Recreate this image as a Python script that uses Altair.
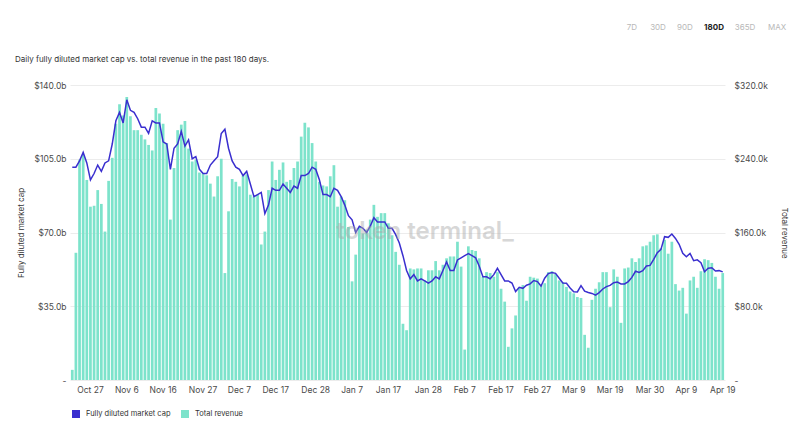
import altair as alt
import pandas as pd

# one bar / one line point per day, 180 days ending Apr 19
days = pd.date_range("2022-10-22", "2023-04-19", freq="D").strftime("%Y-%m-%d").tolist()

# total revenue, $k
revenue_k = [
    11, 138, 239, 244, 217, 188, 189, 206, 191, 161,
    216, 241, 278, 299, 287, 307, 286, 271, 271, 266,
    261, 255, 249, 295, 289, 278, 257, 174, 230, 271,
    277, 281, 251, 237, 239, 225, 224, 222, 213, 199,
    221, 240, 116, 183, 218, 215, 210, 222, 223, 201,
    199, 201, 147, 161, 206, 237, 217, 228, 236, 215,
    217, 230, 237, 264, 279, 274, 257, 237, 215, 211,
    210, 221, 233, 188, 199, 195, 166, 107, 136, 166,
    159, 163, 174, 190, 177, 181, 181, 170, 157, 139,
    125, 61, 54, 121, 120, 121, 121, 108, 119, 119,
    129, 119, 125, 132, 134, 134, 150, 123, 33, 145,
    141, 140, 132, 112, 117, 116, 112, 117, 99, 85,
    36, 56, 70, 100, 103, 86, 112, 111, 110, 103,
    105, 117, 118, 115, 108, 106, 101, 96, 94, 90,
    89, 49, 35, 87, 99, 106, 117, 117, 79, 120,
    112, 62, 121, 122, 132, 128, 132, 145, 146, 150,
    157, 158, 143, 152, 137, 150, 104, 97, 100, 72,
    108, 112, 100, 118, 131, 130, 127, 112, 99, 116,
]

# fully diluted market cap, $b
fdv_b = [
    101, 101, 104, 108, 103, 95, 98, 102, 99, 103,
    104, 112, 123, 127, 122, 133, 128, 127, 124, 120,
    120, 117, 123, 122, 122, 113, 112, 100, 110, 112,
    118, 111, 114, 105, 106, 100, 98, 98, 102, 104,
    106, 117, 119, 110, 104, 101, 100, 97, 99, 93,
    87, 88, 89, 79, 83, 91, 90, 90, 93, 91,
    89, 92, 91, 97, 97, 98, 101, 100, 95, 88,
    88, 87, 91, 90, 87, 83, 78, 76, 70, 73,
    72, 70, 73, 77, 75, 75, 75, 72, 72, 69,
    65, 59, 52, 48, 50, 47, 48, 47, 46, 47,
    49, 48, 52, 56, 52, 52, 57, 58, 59, 60,
    59, 58, 54, 49, 49, 48, 50, 53, 50, 47,
    47, 46, 42, 44, 43.5, 45, 45.6, 47.2, 46.7, 44.6,
    48.3, 50.5, 51, 50.6, 48.3, 46, 45.9, 43.7, 41.9, 41.8,
    44.8, 42.2, 41.5, 41.1, 40.3, 41.5, 43.2, 44.3, 44.9, 46.2,
    46.5, 45.6, 45.6, 46.7, 48.7, 51.6, 51, 51.9, 54.1, 54.4,
    57.3, 60.4, 62, 68, 67.7, 69.3, 67.2, 64.4, 60.1, 58.5,
    60.1, 56.6, 57, 55.7, 51.4, 53, 53.3, 51.7, 51.9, 51.3,
]

tick_days = [
    "2022-10-27", "2022-11-06", "2022-11-16", "2022-11-27", "2022-12-07",
    "2022-12-17", "2022-12-28", "2023-01-07", "2023-01-17", "2023-01-28",
    "2023-02-07", "2023-02-17", "2023-02-27", "2023-03-09", "2023-03-19",
    "2023-03-30", "2023-04-09", "2023-04-19",
]
fdv_ticks = [0, 35, 70, 105, 140]
revenue_ticks = [0, 80, 160, 240, 320]
periods = ["7D", "30D", "90D", "180D", "365D", "MAX"]

BAR = "#7de3cb"
LINE = "#3a2fcf"
FONT = "Inter"
LABEL = "#4a4a4a"

df = pd.DataFrame({"day": days, "revenue": revenue_k, "fdv": fdv_b})

series = alt.Scale(domain=["Fully diluted market cap", "Total revenue"], range=[LINE, BAR])
legend = alt.Legend(
    title=None, orient="none", legendX=2, legendY=325, direction="horizontal",
    symbolType="square", symbolSize=64, symbolStrokeWidth=0, labelFontSize=7.5,
    labelColor="#333", labelFont=FONT, labelOffset=6, columnPadding=10,
)
color_enc = alt.Color("series:N", scale=series, legend=legend)

x_enc = alt.X(
    "day:O",
    scale=alt.Scale(paddingInner=0.25, paddingOuter=0.25),
    axis=alt.Axis(
        values=tick_days, labelExpr="utcFormat(toDate(datum.value), '%b %-d')",
        labelAngle=0, title=None, domain=False, ticks=False, labelPadding=5,
        labelFontSize=8.5, labelColor=LABEL, labelFont=FONT,
    ),
)

bars = alt.Chart(df).transform_calculate(series="'Total revenue'").mark_bar().encode(
    x=x_enc,
    y=alt.Y(
        "revenue:Q",
        scale=alt.Scale(domain=[0, 320], nice=False),
        axis=alt.Axis(
            orient="right", values=revenue_ticks, grid=False, domain=False, ticks=False,
            labelExpr="datum.value == 0 ? '-' : '$' + format(datum.value, '.1f') + 'k'",
            labelPadding=9, labelFontSize=8.5, labelColor=LABEL, labelFont=FONT,
            title="Total revenue", titleFontSize=8, titleFontWeight="normal",
            titleColor="#333", titleFont=FONT, titlePadding=12,
        ),
    ),
    color=color_enc,
)

line = alt.Chart(df).transform_calculate(series="'Fully diluted market cap'").mark_line(
    strokeWidth=1.5
).encode(
    x=x_enc,
    y=alt.Y(
        "fdv:Q",
        scale=alt.Scale(domain=[0, 140], nice=False),
        axis=alt.Axis(
            orient="left", values=fdv_ticks, grid=True, gridColor="#ececec", domain=False,
            ticks=False,
            labelExpr="datum.value == 0 ? '-' : '$' + format(datum.value, '.1f') + 'b'",
            labelPadding=4, labelFontSize=8.5, labelColor=LABEL, labelFont=FONT,
            title="Fully diluted market cap", titleFontSize=8, titleFontWeight="normal",
            titleColor="#333", titleFont=FONT, titlePadding=8,
        ),
    ),
    color=color_enc,
)


def note(text, x, y, **style):
    return alt.Chart(pd.DataFrame({"t": [text]})).mark_text(font=FONT, **style).encode(
        text="t:N", x=alt.value(x), y=alt.value(y)
    )


subtitle = note("Daily fully diluted market cap vs. total revenue in the past 180 days.",
                -55, -25, align="left", fontSize=8, color="#333")

watermark = note("token terminal_", 355, 147, fontSize=24, fontWeight=600,
                 color="#a8a8a8", opacity=0.45)

period_x = [562, 588, 615, 644, 675, 707]
buttons = [
    note(p, px, -57, fontSize=8, fontWeight="bold" if p == "180D" else "normal",
         color="#222" if p == "180D" else "#b8b8b8")
    for p, px in zip(periods, period_x)
]

chart = (
    alt.layer(bars, line, watermark, subtitle, *buttons)
    .resolve_scale(y="independent")
    .properties(
        width=655, height=295,
        autosize=alt.AutoSizeParams(type="none"),
        padding={"left": 62, "top": 77, "right": 67, "bottom": 40},
    )
    .configure_view(stroke=None)
)

chart.save("out.html", embed_options={"renderer": "svg", "actions": False})
